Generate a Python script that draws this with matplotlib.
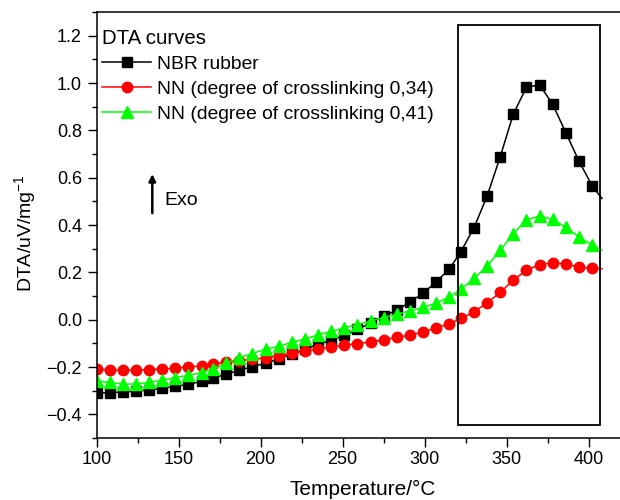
import matplotlib
matplotlib.use("Agg")
import matplotlib.pyplot as plt
from matplotlib.patches import Rectangle
from matplotlib.ticker import MultipleLocator

plt.rcParams["font.family"] = ["Liberation Sans", "DejaVu Sans"]
plt.rcParams["mathtext.default"] = "regular"

# temperature (deg C), last point is the line end without marker
temp = [100, 108, 116, 124, 132, 140, 148, 156, 164, 171, 179, 187, 195,
        203, 211, 219, 227, 235, 243, 251, 259, 267, 275, 283, 291, 299,
        307, 315, 322, 330, 338, 346, 354, 362, 370, 378, 386, 394, 402, 408]

nbr = [-0.31, -0.308, -0.306, -0.302, -0.297, -0.29, -0.282, -0.273, -0.261,
       -0.247, -0.23, -0.214, -0.198, -0.185, -0.165, -0.145, -0.125, -0.105,
       -0.087, -0.066, -0.041, -0.014, 0.015, 0.04, 0.075, 0.111, 0.16, 0.214,
       0.287, 0.388, 0.522, 0.688, 0.869, 0.982, 0.992, 0.91, 0.79, 0.67,
       0.566, 0.512]

nn034 = [-0.209, -0.212, -0.213, -0.213, -0.211, -0.208, -0.205, -0.2, -0.195,
         -0.187, -0.18, -0.173, -0.167, -0.162, -0.152, -0.142, -0.133, -0.124,
         -0.116, -0.108, -0.101, -0.094, -0.084, -0.075, -0.065, -0.052, -0.034,
         -0.018, 0.005, 0.033, 0.071, 0.115, 0.167, 0.209, 0.233, 0.24, 0.235,
         0.222, 0.217, 0.215]

nn041 = [-0.26, -0.265, -0.272, -0.272, -0.265, -0.256, -0.245, -0.235, -0.224,
         -0.207, -0.185, -0.16, -0.143, -0.125, -0.113, -0.096, -0.082, -0.064,
         -0.05, -0.034, -0.021, -0.006, 0.009, 0.023, 0.037, 0.052, 0.07, 0.096,
         0.128, 0.174, 0.226, 0.293, 0.364, 0.421, 0.438, 0.424, 0.39, 0.35,
         0.315, 0.294]

labels = ["NBR rubber", "NN (degree of crosslinking 0,34)",
          "NN (degree of crosslinking 0,41)"]

fig = plt.figure(figsize=(6.2, 5), dpi=100)
ax = fig.add_axes([96.5 / 620, 62 / 500, 1 - 96.5 / 620, 426 / 500])

marks = slice(0, len(temp) - 1)
ax.plot(temp, nbr, color="black", marker="s", ms=6.5, lw=1.1,
        markevery=marks, label=labels[0])
ax.plot(temp, nn034, color="#ff0000", marker="o", ms=7.5, lw=1.1,
        markevery=marks, label=labels[1])
ax.plot(temp, nn041, color="#00ff00", marker="^", ms=8, lw=1.1,
        markevery=marks, label=labels[2])

# highlighted region
ax.add_patch(Rectangle((320, -0.443), 86.7, 1.688, fill=False,
                       edgecolor="black", lw=1.3, zorder=5))

# exo arrow
ax.annotate("", xy=(134, 0.615), xytext=(134, 0.45),
            arrowprops=dict(arrowstyle="-|>", color="black", lw=1.8,
                            mutation_scale=10, shrinkA=0, shrinkB=0))
ax.text(141.5, 0.505, "Exo", fontsize=14, va="center", ha="left")

ax.set_xlim(100, 419)
ax.set_ylim(-0.5, 1.3)
ax.xaxis.set_major_locator(MultipleLocator(50))
ax.xaxis.set_minor_locator(MultipleLocator(25))
ax.yaxis.set_major_locator(MultipleLocator(0.2))
ax.yaxis.set_minor_locator(MultipleLocator(0.1))
ax.tick_params(which="major", length=6.5, width=1, labelsize=13, pad=3)
ax.tick_params(which="minor", length=3.6, width=1)
ax.tick_params(axis="y", which="major", pad=4)
ax.spines["right"].set_visible(False)
for s in ["left", "bottom", "top"]:
    ax.spines[s].set_linewidth(1.1)

ax.set_xlabel("Temperature/\u00b0C", fontsize=15)
ax.xaxis.label.set_verticalalignment("center")
ax.xaxis.set_label_coords(0.509, -0.12)
ax.set_ylabel("DTA/uV/mg$^{-1}$", fontsize=14)
ax.yaxis.label.set_verticalalignment("center")
ax.yaxis.set_label_coords(-0.137, 0.481)

leg = ax.legend(loc="upper left", bbox_to_anchor=(102 / 620, 471 / 500),
                bbox_transform=fig.transFigure, frameon=False, fontsize=13.9,
                title="DTA curves", title_fontsize=14.7, alignment="left",
                borderpad=0, borderaxespad=0, handlelength=2.55,
                handletextpad=0.3, labelspacing=0.38)

fig.savefig("out.png", dpi=100)
